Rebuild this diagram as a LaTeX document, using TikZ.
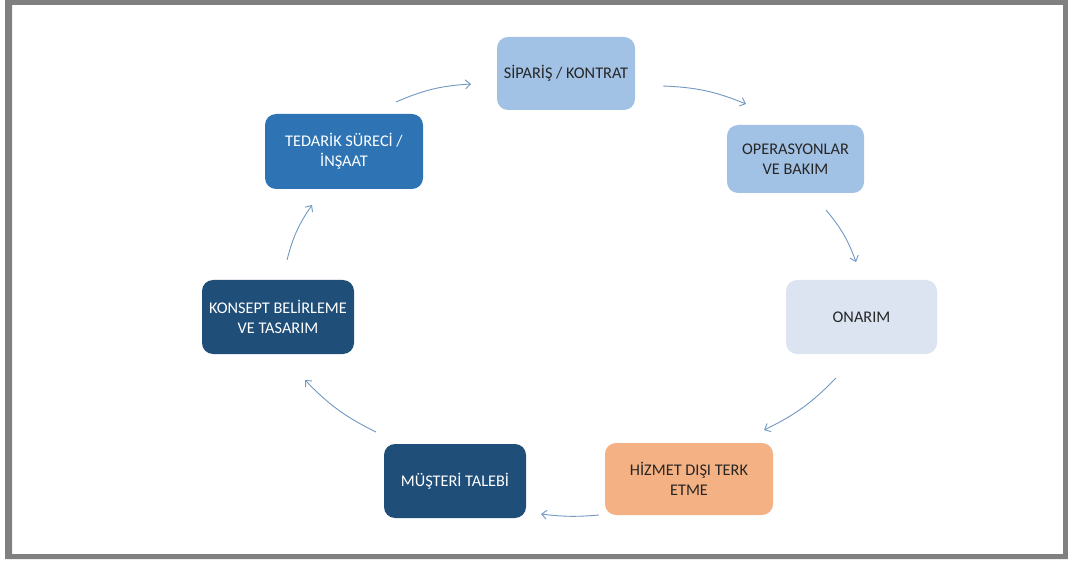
\documentclass[tikz,border=0pt]{standalone}
\usepackage{fontspec}
\setmainfont{Carlito}
\usetikzlibrary{arrows.meta}

\definecolor{framegray}{HTML}{808080}
\definecolor{lightblue}{HTML}{A2C2E5}
\definecolor{paleblue}{HTML}{DCE4F2}
\definecolor{midblue}{HTML}{2E74B5}
\definecolor{darkblue}{HTML}{1F4E79}
\definecolor{peach}{HTML}{F4B183}
\definecolor{darktext}{HTML}{262626}
\definecolor{arrowblue}{HTML}{7098C2}

\begin{document}
\begin{tikzpicture}[x=1pt,y=-1pt,
  box/.style={rounded corners=11pt, inner sep=0pt, align=center,
    font=\fontsize{16.3}{20}\selectfont},
  lightbox/.style={box, fill=lightblue, text=darktext},
  palebox/.style={box, fill=paleblue, text=darktext},
  midbox/.style={box, fill=midblue, text=white},
  darkbox/.style={box, fill=darkblue, text=white},
  peachbox/.style={box, fill=peach, text=darktext},
  conn/.style={draw=arrowblue, line width=0.9pt,
    -{Straight Barb[length=5pt,width=9pt]}}]

\useasboundingbox (0,0) rectangle (1068,561);
\fill[white] (0,0) rectangle (1068,561);
% gray picture frame
\fill[framegray, even odd rule] (5,0) rectangle (1068,559) (12,5) rectangle (1063,554);

% process steps
\node[lightbox, minimum width=138, minimum height=73] (sip) at (566,73.5) {SİPARİŞ / KONTRAT};
\node[lightbox, minimum width=137, minimum height=68] (ops) at (795.5,159) {OPERASYONLAR\\VE BAKIM};
\node[palebox, minimum width=151, minimum height=74] (ona) at (861.5,317) {ONARIM};
\node[peachbox, minimum width=168, minimum height=72] (hiz) at (689,479) {HİZMET DIŞI TERK\\ETME};
\node[darkbox, minimum width=142, minimum height=74] (mus) at (455,481) {MÜŞTERİ TALEBİ};
\node[darkbox, minimum width=152, minimum height=74] (kon) at (278,317) {KONSEPT BELİRLEME\\VE TASARIM};
\node[midbox, minimum width=158, minimum height=75] (ted) at (344,151.5) {TEDARİK SÜRECİ /\\İNŞAAT};

% arrow end points around the cycle
\coordinate (ted-out) at (396,102);
\coordinate (sip-in) at (471,84);
\coordinate (sip-out) at (663,86);
\coordinate (ops-in) at (746,104);
\coordinate (ops-out) at (826,210);
\coordinate (ona-in) at (856,262);
\coordinate (ona-out) at (836,378);
\coordinate (hiz-in) at (764,430);
\coordinate (hiz-out) at (599,515);
\coordinate (mus-in) at (541,514);
\coordinate (mus-out) at (376,432);
\coordinate (kon-in) at (305,380);
\coordinate (kon-out) at (287,260);
\coordinate (ted-in) at (312,205);

\draw[conn] (ted-out) to[bend left=10] (sip-in);
\draw[conn] (sip-out) to[bend left=10] (ops-in);
\draw[conn] (ops-out) to[bend left=10] (ona-in);
\draw[conn] (ona-out) to[bend left=10] (hiz-in);
\draw[conn] (hiz-out) to[bend left=6] (mus-in);
\draw[conn] (mus-out) to[bend left=10] (kon-in);
\draw[conn] (kon-out) to[bend left=10] (ted-in);
\end{tikzpicture}
\end{document}
